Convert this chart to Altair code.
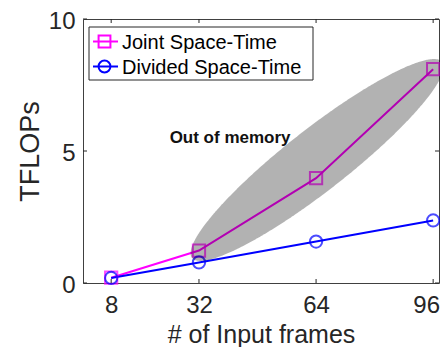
import altair as alt
import pandas as pd
import numpy as np

# ---- data ----
frames = [8, 32, 64, 96]
joint = [0.2, 1.23, 3.97, 8.1]
divided = [0.19, 0.78, 1.57, 2.37]
series = ["Joint Space-Time", "Divided Space-Time"]
colors = ["#ff00ff", "#0000ff"]
shapes = ["square", "circle"]
x_ticks = [8, 32, 64, 96]
y_ticks = [0, 5, 10]
note_text = ["Out of memory"]
note_x = [40.5]
note_y = [5.5]
# shaded ellipse: centre and two conjugate semi-axes, data units
ell_center = (64.3, 4.66)
ell_u = (34.2, 3.71)
ell_v = (5.22, -0.924)

W, H = 356, 264
FONT = "Liberation Sans"
INK = "#262626"

df = pd.DataFrame({
    "frames": frames * 2,
    "tflops": joint + divided,
    "series": [series[0]] * len(frames) + [series[1]] * len(frames),
})

# ellipse outline as upper / lower boundaries
ux, uy = ell_u
vx, vy = ell_v
det = ux * vy - vx * uy
xr = np.hypot(ux, vx)
dx = xr * np.cos(np.linspace(np.pi, 0, 241))
A = ux ** 2 + vx ** 2
B = -2 * dx * (ux * uy + vx * vy)
C = (uy ** 2 + vy ** 2) * dx ** 2 - det ** 2
disc = np.sqrt(np.clip(B ** 2 - 4 * A * C, 0, None))
ell = pd.DataFrame({
    "x": ell_center[0] + dx,
    "y1": ell_center[1] + (-B + disc) / (2 * A),
    "y2": ell_center[1] + (-B - disc) / (2 * A),
})

xscale = alt.Scale(domain=[0.3, 97.6], nice=False, zero=False)
yscale = alt.Scale(domain=[0, 10], nice=False)
xaxis = alt.Axis(values=x_ticks, ticks=False, tickSize=0, domain=False, grid=False,
                 labelFontSize=24, labelPadding=10, labelColor=INK, labelFont=FONT,
                 labelOffset=alt.ExprRef("datum.value == 96 ? -7 : 0"),
                 title="# of Input frames", titleFontSize=25, titleFont=FONT,
                 titleColor=INK, titleFontWeight="normal", titleY=59,
                 titleBaseline="alphabetic")
yaxis = alt.Axis(values=y_ticks, ticks=False, tickSize=0, domain=False, grid=False,
                 labelFontSize=24, labelPadding=8, labelColor=INK, labelFont=FONT,
                 labelOffset=2,
                 title="TFLOPs", titleFontSize=27, titleFont=FONT, titleColor=INK,
                 titleFontWeight="normal", titleX=-45, titleY=H / 2,
                 titleAngle=270, titleBaseline="alphabetic", titleAlign="center")

X = alt.X("frames:Q", scale=xscale, axis=xaxis)
Y = alt.Y("tflops:Q", scale=yscale, axis=yaxis)
col = alt.Color("series:N", scale=alt.Scale(domain=series, range=colors), legend=None)
shp = alt.Shape("series:N", scale=alt.Scale(domain=series, range=shapes), legend=None)

lines = alt.Chart(df).mark_line(strokeWidth=2).encode(x=X, y=Y, color=col, detail="series:N")
points = alt.Chart(df).mark_point(filled=False, strokeWidth=2, size=150).encode(
    x=X, y=Y, color=col, shape=shp)

ellipse = alt.Chart(ell).mark_area(color="#000000", opacity=0.3).encode(
    x=alt.X("x:Q", scale=xscale, axis=xaxis),
    y=alt.Y("y1:Q", scale=yscale, axis=yaxis),
    y2="y2:Q",
)

note = alt.Chart(pd.DataFrame({"t": note_text, "x": note_x, "y": note_y})).mark_text(
    font=FONT, fontSize=17, fontWeight="bold", color="#111111", align="center",
    baseline="middle").encode(
    x=alt.X("x:Q", scale=xscale, axis=xaxis),
    y=alt.Y("y:Q", scale=yscale, axis=yaxis),
    text="t:N")

xt = pd.DataFrame({"frames": x_ticks})
yt = pd.DataFrame({"tflops": y_ticks})
TL = 4
tick_layers = [
    alt.Chart(xt).mark_rule(color=INK, strokeWidth=1).encode(
        x=X, y=alt.value(H), y2=alt.value(H - TL)),
    alt.Chart(xt).mark_rule(color=INK, strokeWidth=1).encode(
        x=X, y=alt.value(0), y2=alt.value(TL)),
    alt.Chart(yt).mark_rule(color=INK, strokeWidth=1).encode(
        y=Y, x=alt.value(0), x2=alt.value(TL)),
    alt.Chart(yt).mark_rule(color=INK, strokeWidth=1).encode(
        y=Y, x=alt.value(W), x2=alt.value(W - TL)),
]

# legend box
one = pd.DataFrame({"a": [0]})
legend_layers = [
    alt.Chart(one).mark_rect(fill="white", stroke=INK, strokeWidth=1).encode(
        x=alt.value(6), x2=alt.value(230), y=alt.value(8), y2=alt.value(61)),
]
for i, (name, c, s) in enumerate(zip(series, colors, shapes)):
    yy = 22.5 + 25 * i
    d = pd.DataFrame({"label": [name]})
    legend_layers += [
        alt.Chart(d).mark_rule(color=c, strokeWidth=2).encode(
            x=alt.value(10), x2=alt.value(35), y=alt.value(yy)),
        alt.Chart(d).mark_point(filled=False, strokeWidth=2, size=140, shape=s, color=c,
                                opacity=1).encode(
            x=alt.value(21.5), y=alt.value(yy)),
        alt.Chart(d).mark_text(font=FONT, fontSize=20, color="#000000", align="left",
                               baseline="middle").encode(
            x=alt.value(39), y=alt.value(yy + 1), text="label:N"),
    ]

chart = alt.layer(lines, points, ellipse, note, *tick_layers, *legend_layers).properties(
    width=W, height=H,
    autosize=alt.AutoSizeParams(type="none"),
    padding={"left": 75, "top": 11, "right": 1, "bottom": 64},
    background="white",
).configure_view(stroke="#404040", strokeWidth=1)

chart.save("out.html", embed_options={"renderer": "svg", "actions": False})
